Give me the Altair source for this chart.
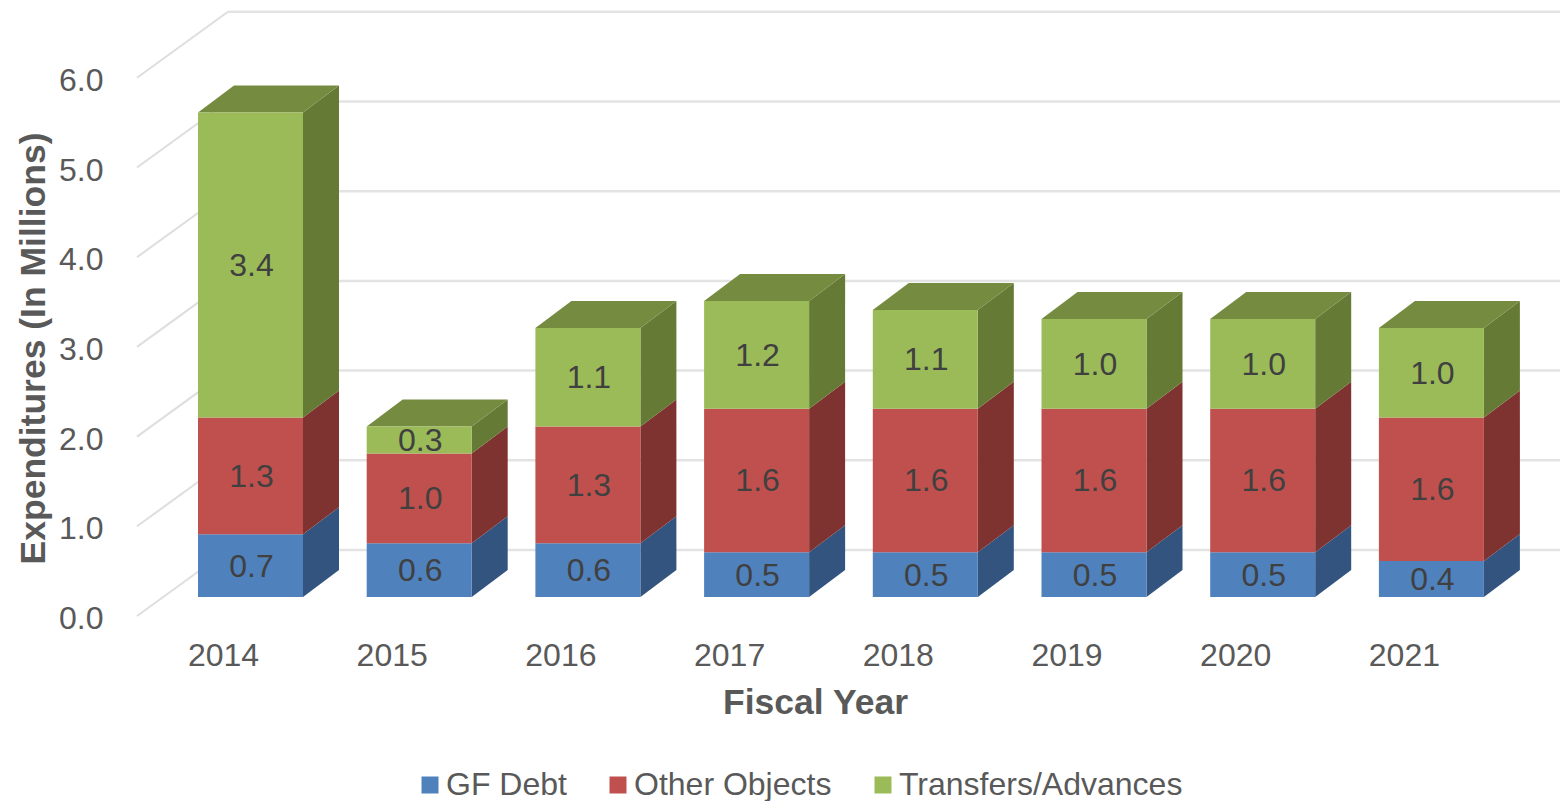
import altair as alt
import pandas as pd

years = [2014, 2015, 2016, 2017, 2018, 2019, 2020, 2021]
gf_debt = [0.7, 0.6, 0.6, 0.5, 0.5, 0.5, 0.5, 0.4]
other_objects = [1.3, 1.0, 1.3, 1.6, 1.6, 1.6, 1.6, 1.6]
transfers = [3.4, 0.3, 1.1, 1.2, 1.1, 1.0, 1.0, 1.0]
series_names = ["GF Debt", "Other Objects", "Transfers/Advances"]
front_colors = ["#4f81bd", "#c0504d", "#9bbb59"]
side_colors = ["#33547e", "#7e3331", "#657a34"]
top_color = "#758c40"
grid_values = [0, 1, 2, 3, 4, 5, 6]

# 3-D projection, expressed in scale units
PX_X = 168.7      # pixels per category
PX_Y = 89.7       # pixels per 1.0 on the value axis
LEFT, TOP = 137, 12
WIDTH, HEIGHT = 1423, 604
X_MIN = (137 - 224) / PX_X
X_MAX = X_MIN + WIDTH / PX_X
Y_MAX = HEIGHT / PX_Y
WALL_DX, WALL_DV = 91 / PX_X, 66 / PX_Y
BAR_SHIFT_X, BAR_SHIFT_V = -26 / PX_X, 19 / PX_Y
BAR_W, BAR_DX, BAR_DV = 105 / PX_X, 36 / PX_X, 27 / PX_Y

front, side, top, labels = [], [], [], []
for i, year in enumerate(years):
    base = BAR_SHIFT_V
    x0 = i + BAR_SHIFT_X
    x1 = x0 + BAR_W
    for s, vals in enumerate([gf_debt, other_objects, transfers]):
        v = vals[i]
        low, high = base, base + v
        front.append({"x0": x0, "x1": x1, "low": low, "high": high, "series": series_names[s]})
        labels.append({"x": (x0 + x1) / 2, "y": (low + high) / 2, "text": f"{v:.1f}"})
        key = f"{year}-{s}"
        side.append({"x": x1, "low": low, "high": high, "key": key, "color": side_colors[s]})
        side.append({"x": x1 + BAR_DX, "low": low + BAR_DV, "high": high + BAR_DV, "key": key, "color": side_colors[s]})
        base = high
    top.append({"y": base, "x0": x0, "x1": x1, "key": str(year)})
    top.append({"y": base + BAR_DV, "x0": x0 + BAR_DX, "x1": x1 + BAR_DX, "key": str(year)})

wall_lines = []
for g in grid_values:
    wall_lines.append({"x": X_MIN, "y": g, "g": g})
    wall_lines.append({"x": X_MIN + WALL_DX, "y": g + WALL_DV, "g": g})
back_lines = [{"x": X_MIN + WALL_DX, "x2": X_MAX, "y": g + WALL_DV} for g in grid_values]

x_scale = alt.Scale(domain=[X_MIN, X_MAX], nice=False, zero=False)
y_scale = alt.Scale(domain=[0, Y_MAX], nice=False, zero=False)
FONT = "Liberation Sans"
TXT = "#595959"

x_axis = alt.Axis(
    values=list(range(len(years))),
    labelExpr=f"datum.value + {years[0]}",
    grid=False, domain=False, ticks=False,
    labelFont=FONT, labelFontSize=32, labelColor=TXT, labelPadding=24, labelOffset=-1,
    labelFlush=False, labelOverlap=False,
    title="Fiscal Year", titleFont=FONT, titleFontSize=35.5, titleFontWeight="bold",
    titleColor=TXT, titleX=678, titleY=86, titleAnchor="middle", titleAlign="center", titleBaseline="middle",
)
y_axis = alt.Axis(
    values=grid_values, format=".1f",
    grid=False, domain=False, ticks=False,
    labelFont=FONT, labelFontSize=32, labelColor=TXT, labelPadding=34, labelOffset=2.5,
    labelFlush=False, labelOverlap=False,
    title="Expenditures (In Millions)", titleFont=FONT, titleFontSize=35.5, titleFontWeight="bold",
    titleColor=TXT, titleX=-104, titleY=336, titleAnchor="middle", titleBaseline="middle", titleAlign="center",
)

wall = alt.Chart(pd.DataFrame(wall_lines)).mark_line(color="#dedede", strokeWidth=2).encode(
    x=alt.X("x:Q", scale=x_scale, axis=x_axis),
    y=alt.Y("y:Q", scale=y_scale, axis=y_axis),
    detail="g:N",
)
back = alt.Chart(pd.DataFrame(back_lines)).mark_rule(color="#e3e3e3", strokeWidth=2.5).encode(
    x=alt.X("x:Q", scale=x_scale), x2="x2:Q", y=alt.Y("y:Q", scale=y_scale),
)
side_faces = alt.Chart(pd.DataFrame(side)).mark_area(orient="vertical").encode(
    x=alt.X("x:Q", scale=x_scale),
    y=alt.Y("low:Q", scale=y_scale),
    y2="high:Q",
    detail="key:N",
    color=alt.Color("color:N", scale=None),
)
top_faces = alt.Chart(pd.DataFrame(top)).mark_area(orient="horizontal", color=top_color).encode(
    y=alt.Y("y:Q", scale=y_scale),
    x=alt.X("x0:Q", scale=x_scale),
    x2="x1:Q",
    detail="key:N",
)
front_faces = alt.Chart(pd.DataFrame(front)).mark_rect().encode(
    x=alt.X("x0:Q", scale=x_scale),
    x2="x1:Q",
    y=alt.Y("low:Q", scale=y_scale),
    y2="high:Q",
    color=alt.Color(
        "series:N",
        scale=alt.Scale(domain=series_names, range=front_colors),
        legend=alt.Legend(
            title=None, orient="none", legendX=277, legendY=757, direction="horizontal", columns=3,
            columnPadding=35, symbolType="square", symbolSize=289, symbolStrokeWidth=0,
            labelFont=FONT, labelFontSize=32, labelColor=TXT, labelOffset=0, labelLimit=400,
        ),
    ),
)
text = alt.Chart(pd.DataFrame(labels)).mark_text(
    font=FONT, fontSize=32, color="#404040", baseline="middle", align="center", dx=1, dy=1
).encode(
    x=alt.X("x:Q", scale=x_scale),
    y=alt.Y("y:Q", scale=y_scale),
    text="text:N",
)

chart = (
    alt.layer(wall, back, side_faces, top_faces, front_faces, text)
    .properties(
        width=WIDTH, height=HEIGHT,
        autosize=alt.AutoSizeParams(type="none"),
        padding={"left": LEFT - 8, "top": TOP - 8, "right": 0, "bottom": 185},
    )
    .configure_view(stroke=None)
)
chart.save("out.html", embed_options={"renderer": "svg", "actions": False})
